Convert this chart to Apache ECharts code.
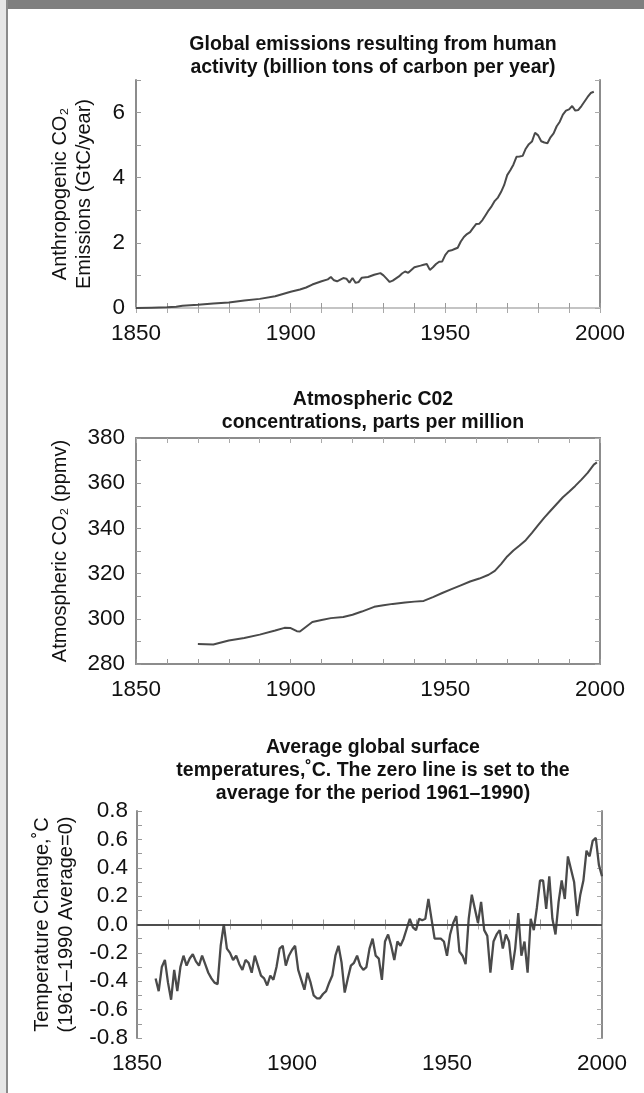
<!DOCTYPE html>
<html>
<head>
<meta charset="utf-8">
<title>Emissions, CO2 and temperature</title>
<script src="https://cdn.jsdelivr.net/npm/echarts@6/dist/echarts.min.js"></script>
<style>
  html, body { margin: 0; padding: 0; background: #fff; }
  .page { position: relative; width: 644px; height: 1093px; overflow: hidden; }
  .page__bar { position: absolute; left: 8px; top: 0; width: 636px; height: 9px; background: #7f7f7f; }
  .page__strip { position: absolute; left: 0; top: 0; width: 6px; height: 1093px; background: #e6e6e6; }
  .page__rule { position: absolute; left: 6px; top: 0; width: 2px; height: 1093px; background: #8a8a8a; }
  #chart { position: absolute; left: 0; top: 0; width: 644px; height: 1093px; }
</style>
</head>
<body>
<div class="page">
  <div class="page__strip"></div>
  <div class="page__rule"></div>
  <div class="page__bar"></div>
  <div id="chart"></div>
</div>
<script>
// emissions, GtC per year
const emissionYears = [1850, 1855, 1860, 1863, 1865, 1870, 1875, 1880, 1885, 1890, 1895, 1900, 1903, 1905, 1907,
  1910, 1912, 1913, 1914, 1915, 1917, 1918, 1919, 1920, 1921, 1922, 1923, 1925, 1927, 1929, 1930, 1931, 1932,
  1933, 1935, 1936, 1937, 1938, 1940, 1942, 1943, 1944, 1945, 1946, 1947, 1948, 1949, 1950, 1951, 1952, 1953,
  1954, 1955, 1956, 1957, 1958, 1959, 1960, 1961, 1962, 1963, 1964, 1965, 1966, 1967, 1968, 1969, 1970, 1971,
  1972, 1973, 1974, 1975, 1976, 1977, 1978, 1979, 1980, 1981, 1982, 1983, 1984, 1985, 1986, 1987, 1988, 1989,
  1990, 1991, 1992, 1993, 1994, 1995, 1996, 1997, 1998]
const emissionValues = [0, 0.01, 0.02, 0.04, 0.07, 0.1, 0.14, 0.17, 0.23, 0.28, 0.36, 0.5, 0.57, 0.63, 0.72,
  0.82, 0.88, 0.95, 0.85, 0.82, 0.92, 0.9, 0.78, 0.92, 0.77, 0.8, 0.93, 0.95, 1.02, 1.07, 1.0, 0.9, 0.8,
  0.84, 0.97, 1.06, 1.12, 1.08, 1.25, 1.3, 1.33, 1.35, 1.17, 1.25, 1.35, 1.42, 1.43, 1.63, 1.75, 1.77, 1.81,
  1.85, 2.04, 2.18, 2.27, 2.33, 2.46, 2.58, 2.59, 2.7, 2.85, 3.0, 3.13, 3.29, 3.39, 3.56, 3.77, 4.08, 4.23,
  4.4, 4.64, 4.65, 4.67, 4.89, 5.03, 5.11, 5.38, 5.3, 5.12, 5.08, 5.06, 5.24, 5.36, 5.58, 5.72, 5.94, 6.06,
  6.1, 6.2, 6.06, 6.08, 6.2, 6.34, 6.48, 6.6, 6.64]

// atmospheric CO2, ppmv
const co2Years = [1870, 1875, 1880, 1885, 1890, 1895, 1898, 1900, 1902, 1903, 1905, 1907, 1910, 1913, 1917,
  1920, 1923, 1927, 1930, 1933, 1937, 1940, 1943, 1946, 1949, 1952, 1955, 1958, 1961, 1964, 1966, 1968, 1970,
  1972, 1974, 1976, 1978, 1980, 1982, 1984, 1986, 1988, 1990, 1992, 1994, 1996, 1998, 1999]
const co2Values = [288.8, 288.6, 290.4, 291.5, 293, 294.8, 296, 295.9, 294.5, 294.4, 296.5, 298.6, 299.5, 300.3,
  300.8, 301.8, 303.2, 305.3, 306, 306.6, 307.2, 307.6, 307.9, 309.6, 311.4, 313.1, 314.8, 316.5, 317.8, 319.5,
  321.2, 324.2, 327.6, 330.2, 332.4, 334.8, 338, 341.4, 344.8, 347.8, 350.8, 353.8, 356.2, 358.8, 361.6, 364.6,
  368.2, 369.2]

// temperature anomaly, one value per year from 1856 to 2000
const tempFirstYear = 1856
const tempValues = [
  -0.38, -0.47, -0.30, -0.25, -0.41, -0.53, -0.32, -0.47, -0.30, -0.22, -0.29, -0.24, -0.21, -0.26,
  -0.29, -0.22, -0.28, -0.34, -0.38, -0.41, -0.42, -0.15, 0.00, -0.17, -0.20, -0.25, -0.22, -0.28,
  -0.32, -0.25, -0.27, -0.34, -0.22, -0.29, -0.36, -0.38, -0.43, -0.36, -0.39, -0.30, -0.17, -0.15,
  -0.29, -0.22, -0.18, -0.15, -0.32, -0.39, -0.46, -0.34, -0.41, -0.50, -0.52, -0.52, -0.49, -0.47,
  -0.41, -0.36, -0.22, -0.15, -0.27, -0.48, -0.38, -0.29, -0.27, -0.22, -0.29, -0.32, -0.30, -0.17,
  -0.10, -0.22, -0.24, -0.39, -0.12, -0.07, -0.15, -0.25, -0.12, -0.15, -0.10, -0.03, 0.04, -0.02,
  -0.04, 0.04, 0.03, 0.04, 0.18, 0.04, -0.10, -0.10, -0.10, -0.12, -0.22, -0.07, 0.01, 0.06,
  -0.19, -0.22, -0.28, 0.04, 0.21, 0.11, 0.01, 0.16, -0.04, -0.08, -0.34, -0.12, -0.07, -0.04,
  -0.17, -0.07, -0.12, -0.32, -0.17, 0.08, -0.22, -0.12, -0.34, 0.04, -0.04, 0.12, 0.31, 0.31,
  0.11, 0.34, 0.04, -0.07, 0.16, 0.31, 0.18, 0.48, 0.39, 0.30, 0.06, 0.21, 0.31, 0.52, 0.48,
  0.59, 0.61, 0.42, 0.34]

const yearTicks = [1850, 1900, 1950, 2000]

const titles = [
  'Global emissions resulting from human\nactivity (billion tons of carbon per year)',
  'Atmospheric C02\nconcentrations, parts per million',
  'Average global surface\ntemperatures,˚C. The zero line is set to the\naverage for the period 1961–1990)'
]
const yNames = [
  'Anthropogenic CO₂\nEmissions (GtC/year)',
  'Atmospheric CO₂ (ppmv)',
  'Temperature Change,˚C\n(1961–1990 Average=0)'
]

const FONT = '"Liberation Sans", Arial, sans-serif'
const frameColor = '#8c8c8c'
const lineColor = '#4a4a4a'

const grids = [
  { left: 136, right: 44, top: 80, height: 228 },
  { left: 136, right: 44, top: 438, height: 226 },
  { left: 137, right: 42, top: 811, height: 227 }
]

const titleTops = [28, 383, 731]

const pairs = (xs, ys) => xs.map((x, i) => [x, ys[i]])
const tempData = tempValues.map((v, i) => [tempFirstYear + i, v])

const buildXAxes = (gridIndex, topColor) => [
  {
    type: 'value', gridIndex, min: 1850, max: 2000, interval: 10,
    axisLine: { lineStyle: { color: frameColor, width: 2 } },
    axisTick: { inside: true, length: 5, lineStyle: { color: '#999' } },
    axisLabel: {
      margin: 14, fontSize: 22.5, color: '#111', fontFamily: FONT,
      formatter: (v) => (yearTicks.includes(v) ? String(v) : '')
    },
    splitLine: { show: false }
  },
  {
    type: 'value', gridIndex, position: 'top', min: 1850, max: 2000, interval: 10,
    axisLine: { lineStyle: { color: topColor, width: 2 } },
    axisTick: { inside: true, length: 5, lineStyle: { color: '#aaa' } },
    axisLabel: { show: false },
    splitLine: { show: false }
  }
]

const buildYAxes = (gridIndex, min, max, interval, formatter, labelMargin, nameGap) => [
  {
    type: 'value', gridIndex, min, max, interval,
    name: yNames[gridIndex],
    nameLocation: 'middle',
    nameGap,
    nameTextStyle: { fontSize: 20, lineHeight: 24, color: '#111', fontFamily: FONT },
    axisLine: { show: true, lineStyle: { color: frameColor, width: 2 } },
    axisTick: { show: true, inside: true, length: 5, lineStyle: { color: '#999' } },
    axisLabel: { margin: labelMargin, fontSize: 22.5, color: '#111', fontFamily: FONT, formatter },
    splitLine: { show: false }
  },
  {
    type: 'value', gridIndex, position: 'right', min, max, interval,
    axisLine: { show: true, lineStyle: { color: frameColor, width: 2 } },
    axisTick: { show: true, inside: true, length: 5, lineStyle: { color: '#aaa' } },
    axisLabel: { show: false },
    splitLine: { show: false }
  }
]

const lineSeries = (gridIndex, data, width) => ({
  type: 'line',
  xAxisIndex: gridIndex * 2,
  yAxisIndex: gridIndex * 2,
  data,
  showSymbol: false,
  smooth: false,
  lineStyle: { color: lineColor, width },
  animation: false
})

const tempSeries = lineSeries(2, tempData, 2.3)
tempSeries.markLine = {
  silent: true,
  symbol: 'none',
  label: { show: false },
  lineStyle: { color: '#3a3a3a', width: 1.5, type: 'solid' },
  data: [{ yAxis: 0 }]
}

const option = {
  animation: false,
  title: titles.map((text, i) => ({
    text,
    left: 368,
    top: titleTops[i],
    textAlign: 'center',
    textStyle: { fontSize: 19.5, lineHeight: 23, fontWeight: 'bold', color: '#111', fontFamily: FONT }
  })),
  grid: grids,
  xAxis: [
    ...buildXAxes(0, '#c4c4c4'),
    ...buildXAxes(1, frameColor),
    ...buildXAxes(2, frameColor)
  ],
  yAxis: [
    ...buildYAxes(0, 0, 7, 1, (v) => (v % 2 === 0 ? String(v) : ''), 11, 40),
    ...buildYAxes(1, 280, 380, 10, (v) => (v % 20 === 0 ? String(v) : ''), 11, 64),
    ...buildYAxes(2, -0.8, 0.8, 0.1, (v) => {
      const k = Math.round(v * 10)
      if (k % 2 !== 0) return ''
      return k === 0 ? '0.0' : (k / 10).toFixed(1)
    }, 9, 58)
  ],
  series: [
    lineSeries(0, pairs(emissionYears, emissionValues), 2),
    lineSeries(1, pairs(co2Years, co2Values), 2),
    tempSeries
  ]
}

const chart = echarts.init(document.getElementById('chart'), null, { renderer: 'canvas' })
chart.setOption(option)
</script>
</body>
</html>
